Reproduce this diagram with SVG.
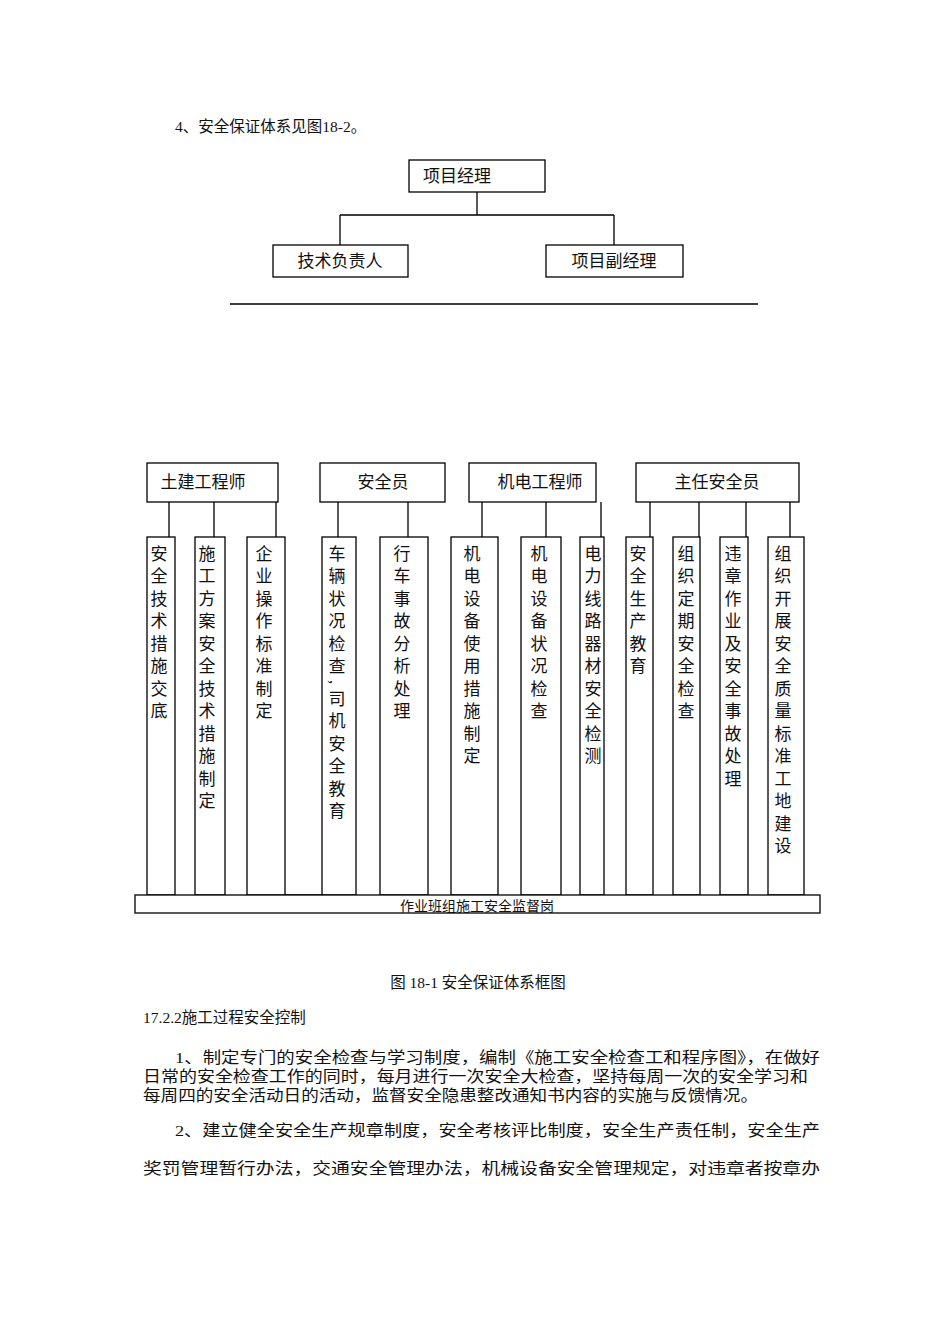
<svg xmlns="http://www.w3.org/2000/svg" width="950" height="1344" viewBox="0 0 950 1344">
<style>
text{font-family:"Liberation Serif","Noto Sans CJK SC",serif;fill:#111}
.b{fill:#fff;stroke:#000;stroke-width:1.3}
.l{stroke:#000;stroke-width:1.3;fill:none}
.h{font-size:17px;text-anchor:middle}
.v{font-size:17px;writing-mode:vertical-rl;letter-spacing:5.5px}
.p{font-size:15.5px}
</style>
<rect width="950" height="1344" fill="#fff"/>
<text class="p" x="175" y="132">4、安全保证体系见图18-2。</text>
<g id="connectors">
<path class="l" d="M477 192V215M340 215H614M340 215V245M614 215V245M230 304H758"/>
<path class="l" d="M169 502V537M214 502V537M276 502V537M338 502V537M408 502V537M482 502V537M546 502V537M601 502V537M650 502V537M699 502V537M746 502V537M790 502V537M285 895H322"/>
</g>
<g id="n1"><rect class="b" x="409" y="160" width="136" height="32"/><text class="h" x="457" y="182">项目经理</text></g>
<g id="n2"><rect class="b" x="273" y="245" width="135" height="32"/><text class="h" x="340" y="267">技术负责人</text></g>
<g id="n3"><rect class="b" x="546" y="245" width="137" height="32"/><text class="h" x="614" y="267">项目副经理</text></g>
<g id="h1"><rect class="b" x="147" y="463" width="131" height="39"/><text class="h" x="203" y="488">土建工程师</text></g>
<g id="h2"><rect class="b" x="320" y="463" width="125" height="39"/><text class="h" x="383" y="488">安全员</text></g>
<g id="h3"><rect class="b" x="469" y="463" width="127" height="39"/><text class="h" x="540" y="488">机电工程师</text></g>
<g id="h4"><rect class="b" x="636" y="463" width="163" height="39"/><text class="h" x="717" y="488">主任安全员</text></g>
<g id="v1"><rect class="b" x="147" y="537" width="28" height="358"/><text class="v" x="157" y="545">安全技术措施交底</text></g>
<g id="v2"><rect class="b" x="195" y="537" width="30" height="358"/><text class="v" x="205" y="545">施工方案安全技术措施制定</text></g>
<g id="v3"><rect class="b" x="247" y="537" width="38" height="358"/><text class="v" x="262" y="545">企业操作标准制定</text></g>
<g id="v4"><rect class="b" x="322" y="537" width="34" height="358"/><text class="v" x="335" y="545">车辆状况检查,司机安全教育</text></g>
<g id="v5"><rect class="b" x="380" y="537" width="48" height="358"/><text class="v" x="400" y="545">行车事故分析处理</text></g>
<g id="v6"><rect class="b" x="451" y="537" width="47" height="358"/><text class="v" x="470" y="545">机电设备使用措施制定</text></g>
<g id="v7"><rect class="b" x="521" y="537" width="40" height="358"/><text class="v" x="537" y="545">机电设备状况检查</text></g>
<g id="v8"><rect class="b" x="580" y="537" width="24" height="358"/><text class="v" x="591" y="545">电力线路器材安全检测</text></g>
<g id="v9"><rect class="b" x="626" y="537" width="27" height="358"/><text class="v" x="636" y="545">安全生产教育</text></g>
<g id="v10"><rect class="b" x="673" y="537" width="27" height="358"/><text class="v" x="684" y="545">组织定期安全检查</text></g>
<g id="v11"><rect class="b" x="720" y="537" width="28" height="358"/><text class="v" x="731" y="545">违章作业及安全事故处理</text></g>
<g id="v12"><rect class="b" x="768" y="537" width="36" height="358"/><text class="v" x="781" y="545">组织开展安全质量标准工地建设</text></g>
<g id="base"><rect class="b" x="135" y="895" width="685" height="18"/><text x="477" y="911" style="font-size:14px;text-anchor:middle">作业班组施工安全监督岗</text></g>
<text class="p" x="478" y="988" text-anchor="middle">图 18-1 安全保证体系框图</text>
<text class="p" x="143" y="1023">17.2.2施工过程安全控制</text>
<text class="p" x="175" y="1063" textLength="645" lengthAdjust="spacingAndGlyphs">1、制定专门的安全检查与学习制度，编制《施工安全检查工和程序图》，在做好</text>
<text class="p" x="143" y="1082" textLength="665" lengthAdjust="spacingAndGlyphs">日常的安全检查工作的同时，每月进行一次安全大检查，坚持每周一次的安全学习和</text>
<text class="p" x="143" y="1101" textLength="615" lengthAdjust="spacingAndGlyphs">每周四的安全活动日的活动，监督安全隐患整改通知书内容的实施与反馈情况。</text>
<text class="p" x="175" y="1136" textLength="645" lengthAdjust="spacingAndGlyphs">2、建立健全安全生产规章制度，安全考核评比制度，安全生产责任制，安全生产</text>
<text class="p" x="143" y="1174" textLength="677" lengthAdjust="spacingAndGlyphs">奖罚管理暂行办法，交通安全管理办法，机械设备安全管理规定，对违章者按章办</text>
</svg>
